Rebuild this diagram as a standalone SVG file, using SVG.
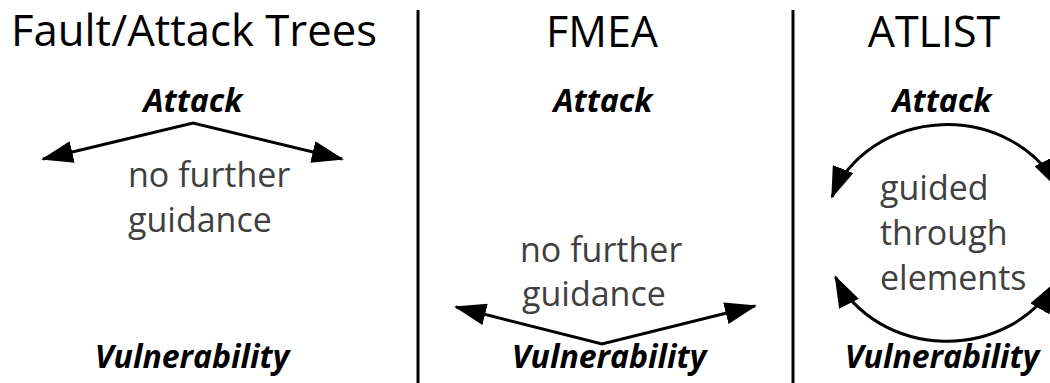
<svg xmlns="http://www.w3.org/2000/svg" width="1050" height="383" viewBox="0 0 1050 383">
<defs>
<style>
.title{font-family:"Open Sans","Liberation Sans",sans-serif;font-size:43px;fill:#000;text-anchor:middle}
.lbl{font-family:"Open Sans","Liberation Sans",sans-serif;font-size:32px;font-weight:bold;font-style:italic;fill:#000;text-anchor:middle}
.note{font-family:"Open Sans","Liberation Sans",sans-serif;font-size:34px;fill:#404040}
.conn{fill:none;stroke:#000;stroke-width:3}
.div{stroke:#000;stroke-width:3}
</style>
<marker id="ah" viewBox="0 0 32 22" refX="30" refY="11" markerWidth="32" markerHeight="22" markerUnits="userSpaceOnUse" orient="auto-start-reverse">
<path d="M0,0 L32,11 L0,22 z" fill="#000"/>
</marker>
</defs>
<rect width="1050" height="383" fill="#fff"/>
<g id="dividers">
<line class="div" x1="418" y1="10" x2="418" y2="383"/>
<line class="div" x1="793" y1="10" x2="793" y2="383"/>
</g>
<g id="col-fault-attack-trees">
<text class="title" x="194" y="46" textLength="366" lengthAdjust="spacingAndGlyphs">Fault/Attack Trees</text>
<text class="lbl" x="193" y="112">Attack</text>
<text class="note" x="128" y="187">no further</text>
<text class="note" x="128" y="232">guidance</text>
<text class="lbl" x="192" y="368">Vulnerability</text>
</g>
<g id="col-fmea">
<text class="title" x="602" y="47">FMEA</text>
<text class="lbl" x="603" y="112">Attack</text>
<text class="note" x="520" y="262">no further</text>
<text class="note" x="522" y="306">guidance</text>
<text class="lbl" x="609" y="368">Vulnerability</text>
</g>
<g id="col-atlist">
<text class="title" x="934" y="47">ATLIST</text>
<text class="lbl" x="942" y="112">Attack</text>
<text class="note" x="880" y="200">guided</text>
<text class="note" x="880" y="245">through</text>
<text class="note" x="880" y="290">elements</text>
<text class="lbl" x="942" y="368">Vulnerability</text>
</g>
<g id="connectors">
<path class="conn" d="M43,159 L193,123 L342,159" marker-start="url(#ah)" marker-end="url(#ah)"/>
<path class="conn" d="M456,307 L602,344 L755,306" marker-start="url(#ah)" marker-end="url(#ah)"/>
<path class="conn" d="M832,197 A122,108.5 0 0 1 1058,188" marker-start="url(#ah)" marker-end="url(#ah)"/>
<path class="conn" d="M835.5,277 A122,108.5 0 0 0 1055,283" marker-start="url(#ah)" marker-end="url(#ah)"/>
</g>
</svg>
